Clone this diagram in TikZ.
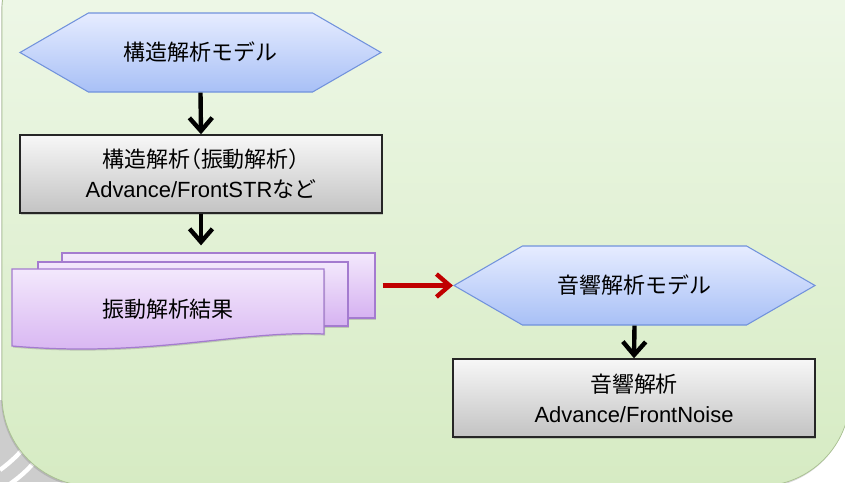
\documentclass[tikz,border=0pt]{standalone}
\usepackage{fontspec}
\setmainfont{Liberation Sans}
\newfontfamily\jpfont{Noto Sans CJK JP}
\newfontfamily\jphalf[RawFeature=+halt]{Noto Sans CJK JP}
\newcommand{\jp}[1]{{\jpfont #1}}
\usepackage{xcolor}
\definecolor{bgtop}{HTML}{F1F9EC}
\definecolor{bgbot}{HTML}{D6EBC3}
\definecolor{bgline}{HTML}{A9C191}
\definecolor{cornergray}{HTML}{CDCDCD}
\definecolor{hextop}{HTML}{E6ECFF}
\definecolor{hexbot}{HTML}{A8C0F6}
\definecolor{hexline}{HTML}{7192DC}
\definecolor{proctop}{HTML}{F7F7F7}
\definecolor{procbot}{HTML}{C3C3C3}
\definecolor{procline}{HTML}{262626}
\definecolor{sheettop}{HTML}{F3E8FC}
\definecolor{sheetbot}{HTML}{D6B2F1}
\definecolor{sheetline}{HTML}{A47BCF}
\definecolor{flowred}{HTML}{C00000}
\usetikzlibrary{shapes.symbols, arrows.meta, shadows, calc}

\begin{document}
\begin{tikzpicture}[
  every node/.style={font=\fontsize{12.5}{17}\selectfont, text=black},
  softshadow/.style={drop shadow={shadow xshift=0.6pt, shadow yshift=-0.9pt, opacity=0.35}},
  hexbox/.style={signal, signal to=west and east, signal pointer angle=60,
                 draw=hexline, top color=hextop, bottom color=hexbot, line width=0.6pt,
                 minimum width=7.22cm, minimum height=1.58cm, inner sep=0pt},
  procbox/.style={rectangle, draw=procline, top color=proctop, bottom color=procbot,
                  line width=0.8pt, minimum width=7.24cm, minimum height=1.56cm,
                  align=center, softshadow},
  sheet/.style={draw=sheetline, top color=sheettop, bottom color=sheetbot,
                line width=0.7pt, softshadow},
  arr/.style={-{Straight Barb[length=7.5pt, width=13pt]}, line width=2.5pt, black},
  redarr/.style={arr, flowred}
]
  \useasboundingbox (0,0) rectangle (16.9,-9.64);
  \clip (0,0) rectangle (16.9,-9.64);

  % backdrop
  \fill[cornergray] (0,-8) rectangle (1.6,-9.64);
  \draw[white, line width=2.5pt] (0,-9.4) to[bend right=8] (0.6,-8.8);
  \draw[white, line width=2.5pt] (0.2,-9.68) to[bend right=8] (0.8,-9.1);
  \draw[bgline, top color=bgtop, bottom color=bgbot, rounded corners=1.8cm,
        drop shadow={shadow xshift=-0.5pt, shadow yshift=-1pt, opacity=0.3}]
    (0.04,1.6) rectangle (17.0,-9.72);

  \node[hexbox] (shex) at (4.01,-1.05) {\jp{構造解析モデル}};
  \node[procbox] (srun) at (4.02,-3.48)
    {\jp{構造解析}{\jphalf （}\jp{振動解析}{\jphalf ）}\\Advance/FrontSTR\jp{など}};

  \node[sheet, minimum width=6.26cm, minimum height=1.3cm] (back) at (4.37,-5.71) {};
  \node[sheet, minimum width=6.2cm, minimum height=1.28cm] (mid) at (3.86,-5.88) {};
  \path[sheet] (0.24,-5.38) -- (6.48,-5.38) -- (6.48,-6.68)
    .. controls (4.8,-6.6) and (3.0,-7.16) .. (0.24,-6.92) -- cycle;
  \node (res) at (3.36,-6.18) {\jp{振動解析結果}};

  \node[hexbox] (ahex) at (12.69,-5.71) {\jp{音響解析モデル}};
  \node[procbox] (arun) at (12.68,-7.96) {\jp{音響解析}\\Advance/FrontNoise};

  \draw[arr] (shex.south) -- (srun.north);
  \draw[arr, shorten >=4pt] (srun.south) -- (srun.south |- back.north);
  \draw[redarr] ([xshift=0.14cm]back.east) -- (ahex.west);
  \draw[arr] (ahex.south) -- (arun.north);
\end{tikzpicture}
\end{document}
